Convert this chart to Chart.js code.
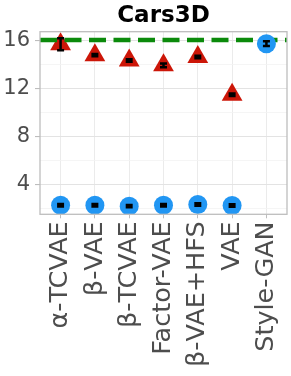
<!DOCTYPE html>
<html>
<head>
<meta charset="utf-8">
<script src="https://cdn.jsdelivr.net/npm/chart.js@4.4.1/dist/chart.umd.min.js"></script>
<style>
  html, body { margin: 0; padding: 0; background: #ffffff; }
  #wrap { width: 291px; height: 376px; }
</style>
</head>
<body>
<div id="wrap"><canvas id="c" width="291" height="376"></canvas></div>
<script>
// ---- data ----
const categories = ['α-TCVAE', 'β-VAE', 'β-TCVAE', 'Factor-VAE', 'β-VAE+HFS', 'VAE', 'Style-GAN'];
const triangleValues = [15.65, 14.75, 14.3, 13.9, 14.6, 11.45, null];
const triangleErrors = [0.5, 0.1, 0.1, 0.15, 0.1, 0.1, null];
const circleValues = [2.25, 2.25, 2.18, 2.25, 2.32, 2.23, 15.7];
const circleErrors = [0.1, 0.1, 0.1, 0.1, 0.1, 0.1, 0.2];
const referenceValue = 16;
const yTickValues = [2, 4, 6, 8, 10, 12, 14, 16];
const yLabelValues = [4, 8, 12, 16];
const titleText = 'Cars3D';

const RED = '#cc1608';
const BLUE = '#2196f3';
const GREEN = '#0b8a0b';
const FONT = "'DejaVu Sans', sans-serif";

function toPoints(vals, errs) {
  const pts = [];
  vals.forEach((v, i) => { if (v !== null) pts.push({ x: i, y: v, err: errs[i] }); });
  return pts;
}

const refLinePlugin = {
  id: 'refLine',
  beforeDatasetDraw(chart, args) {
    if (args.index !== 0) return;
    const { ctx, chartArea } = chart;
    const y = chart.scales.y.getPixelForValue(referenceValue);
    ctx.save();
    ctx.strokeStyle = GREEN;
    ctx.lineWidth = 4.5;
    ctx.setLineDash([17, 7.5]);
    ctx.beginPath();
    ctx.moveTo(chartArea.left, y);
    ctx.lineTo(chartArea.right, y);
    ctx.stroke();
    ctx.restore();
  }
};

const errorBarPlugin = {
  id: 'errorBars',
  afterDatasetsDraw(chart) {
    const { ctx } = chart;
    const xs = chart.scales.x, ys = chart.scales.y;
    ctx.save();
    ctx.strokeStyle = '#000000';
    ctx.lineWidth = 2.5;
    chart.data.datasets.forEach(ds => {
      ds.data.forEach(p => {
        const x = xs.getPixelForValue(p.x);
        const yt = ys.getPixelForValue(p.y + p.err);
        const yb = ys.getPixelForValue(p.y - p.err);
        const hw = 3.5;
        ctx.beginPath();
        ctx.moveTo(x, yt); ctx.lineTo(x, yb);
        ctx.moveTo(x - hw, yt); ctx.lineTo(x + hw, yt);
        ctx.moveTo(x - hw, yb); ctx.lineTo(x + hw, yb);
        ctx.stroke();
      });
    });
    ctx.restore();
  }
};

const borderPlugin = {
  id: 'panelBorder',
  afterDraw(chart) {
    const { ctx, chartArea: a } = chart;
    ctx.save();
    ctx.strokeStyle = '#bdbdbd';
    ctx.lineWidth = 1.3;
    ctx.strokeRect(a.left, a.top, a.right - a.left, a.bottom - a.top);
    ctx.restore();
  }
};

new Chart(document.getElementById('c'), {
  type: 'scatter',
  data: {
    datasets: [
      {
        label: 'circles',
        data: toPoints(circleValues, circleErrors),
        pointStyle: 'circle',
        pointRadius: 9.5,
        pointHoverRadius: 9.5,
        backgroundColor: BLUE,
        borderColor: BLUE,
        borderWidth: 0
      },
      {
        label: 'triangles',
        data: toPoints(triangleValues, triangleErrors),
        pointStyle: 'triangle',
        pointRadius: 12,
        pointHoverRadius: 12,
        backgroundColor: RED,
        borderColor: RED,
        borderWidth: 0
      }
    ]
  },
  options: {
    responsive: false,
    animation: false,
    events: [],
    layout: { autoPadding: false, padding: { left: 0, right: 4, top: 0, bottom: 0 } },
    plugins: {
      legend: { display: false },
      tooltip: { enabled: false },
      title: {
        display: true,
        text: titleText,
        fullSize: false,
        color: '#000000',
        font: { family: FONT, size: 23, weight: 'bold', lineHeight: 1.2 },
        padding: { top: 2, bottom: 2.1 }
      }
    },
    scales: {
      x: {
        type: 'linear',
        min: -0.6,
        max: 6.6,
        afterBuildTicks: s => { s.ticks = categories.map((_, i) => ({ value: i })); },
        afterFit: s => { s.height = 376 - 214.3; s.paddingLeft = 0; s.paddingRight = 0; },
        border: { display: false },
        grid: { color: '#ebebeb', lineWidth: 1, tickLength: 4, tickColor: '#bdbdbd', drawTicks: true },
        ticks: {
          autoSkip: false,
          minRotation: 90,
          maxRotation: 90,
          padding: 3,
          color: '#4d4d4d',
          font: { family: FONT, size: 25.5 },
          callback: v => categories[v]
        }
      },
      y: {
        type: 'linear',
        min: 1.5,
        max: 16.7,
        afterBuildTicks: s => { s.ticks = yTickValues.map(v => ({ value: v })); },
        afterFit: s => { s.width = 40; s.paddingTop = 0; s.paddingBottom = 0; },
        border: { display: false },
        grid: {
          color: c => (yLabelValues.includes(c.tick && c.tick.value) ? '#e3e3e3' : '#f3f3f3'),
          lineWidth: c => (yLabelValues.includes(c.tick && c.tick.value) ? 1.1 : 0.8),
          tickLength: 5,
          tickColor: c => (yLabelValues.includes(c.tick && c.tick.value) ? '#bdbdbd' : 'rgba(0,0,0,0)')
        },
        ticks: {
          autoSkip: false,
          padding: 5,
          color: '#4d4d4d',
          font: { family: FONT, size: 21 },
          callback: v => (yLabelValues.includes(v) ? String(v) : '')
        }
      }
    }
  },
  plugins: [refLinePlugin, errorBarPlugin, borderPlugin]
});
</script>
</body>
</html>
